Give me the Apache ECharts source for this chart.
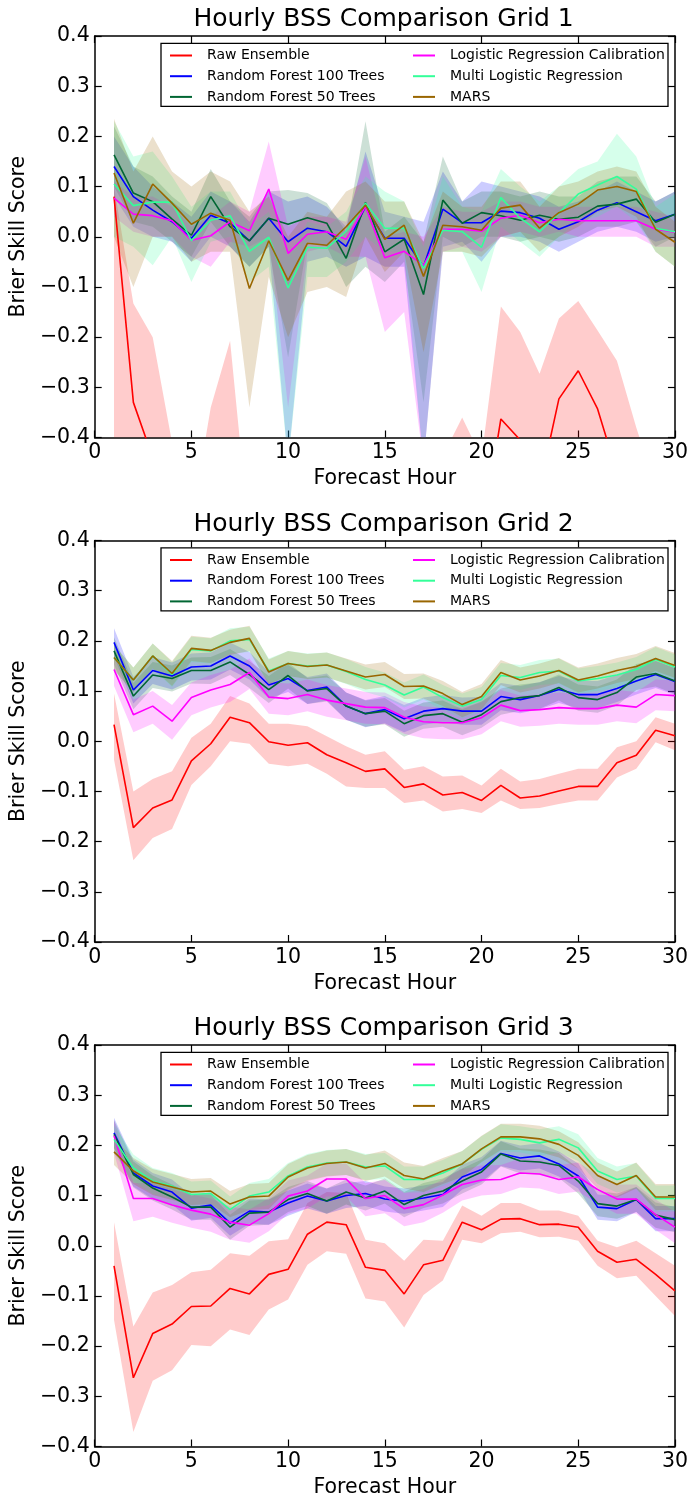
<!DOCTYPE html>
<html>
<head>
<meta charset="utf-8">
<script src="https://cdn.jsdelivr.net/npm/echarts@6/dist/echarts.min.js"></script>
<style>
  html, body { margin: 0; padding: 0; background: #ffffff; }
  #chart { width: 691px; height: 1500px; }
</style>
</head>
<body>
<div id="chart"></div>
<script>
// ---------------- data ----------------
const hours = [1,2,3,4,5,6,7,8,9,10,11,12,13,14,15,16,17,18,19,20,21,22,23,24,25,26,27,28,29,30];
const xTicks = [0, 5, 10, 15, 20, 25, 30];
const yTicks = [-0.4, -0.3, -0.2, -0.1, 0.0, 0.1, 0.2, 0.3, 0.4];
const titles = ['Hourly BSS Comparison Grid 1', 'Hourly BSS Comparison Grid 2', 'Hourly BSS Comparison Grid 3'];
const models = ['Raw Ensemble', 'Random Forest 100 Trees', 'Random Forest 50 Trees',
                'Logistic Regression Calibration', 'Multi Logistic Regression', 'MARS'];

// Grid 1 (mean, lower bound, upper bound per model)
const g1Raw    = [0.080,-0.330,-0.440,-0.580,-0.620,-0.520,-0.450,-0.620,-0.660,-0.700,-0.680,-0.720,-0.700,-0.620,-0.660,-0.700,-0.720,-0.600,-0.550,-0.600,-0.363,-0.405,-0.500,-0.323,-0.267,-0.343,-0.470,-0.580,-0.620,-0.660];
const g1RawLo  = [-0.450,-0.550,-0.680,-0.800,-0.800,-0.750,-0.700,-0.800,-0.800,-0.850,-0.850,-0.850,-0.850,-0.800,-0.800,-0.850,-0.850,-0.800,-0.750,-0.800,-0.600,-0.650,-0.750,-0.500,-0.450,-0.520,-0.700,-0.800,-0.800,-0.800];
const g1RawHi  = [0.100,-0.133,-0.200,-0.410,-0.570,-0.340,-0.207,-0.600,-0.550,-0.600,-0.580,-0.620,-0.600,-0.550,-0.560,-0.600,-0.620,-0.437,-0.360,-0.440,-0.139,-0.190,-0.273,-0.163,-0.128,-0.187,-0.247,-0.380,-0.500,-0.550];
const g1Rf100   = [0.140,0.080,0.053,0.030,-0.003,0.043,0.027,-0.008,0.037,-0.010,0.017,0.010,-0.019,0.060,-0.003,-0.003,-0.060,0.055,0.028,0.028,0.051,0.048,0.037,0.015,0.030,0.053,0.068,0.050,0.032,0.045];
const g1Rf100Lo = [0.080,0.020,0.000,-0.010,-0.050,0.000,-0.020,-0.060,-0.020,-0.450,-0.050,-0.040,-0.060,-0.040,-0.060,-0.060,-0.450,-0.020,-0.010,-0.050,0.000,0.000,-0.010,-0.030,-0.010,0.010,0.020,0.010,-0.010,0.000];
const g1Rf100Hi = [0.200,0.140,0.100,0.070,0.040,0.090,0.070,0.030,0.090,0.070,0.080,0.060,0.020,0.170,0.050,0.040,0.030,0.130,0.070,0.110,0.100,0.090,0.080,0.060,0.070,0.090,0.110,0.090,0.070,0.090];
const g1Rf50    = [0.163,0.087,0.070,0.035,0.003,0.080,0.020,-0.008,0.037,0.025,0.038,0.027,-0.043,0.068,-0.030,-0.005,-0.115,0.073,0.027,0.048,0.042,0.033,0.043,0.035,0.039,0.061,0.065,0.075,0.029,0.045];
const g1Rf50Lo  = [0.100,0.030,0.020,-0.010,-0.040,0.030,-0.020,-0.060,-0.020,-0.240,-0.010,-0.020,-0.100,-0.060,-0.090,-0.050,-0.330,0.000,-0.020,0.000,0.000,-0.010,0.000,-0.010,0.000,0.020,0.020,0.030,-0.020,0.000];
const g1Rf50Hi  = [0.220,0.140,0.120,0.080,0.050,0.135,0.070,0.040,0.090,0.093,0.087,0.067,0.010,0.230,0.010,0.040,-0.010,0.160,0.070,0.090,0.090,0.080,0.090,0.080,0.080,0.110,0.120,0.120,0.070,0.090];
const g1Lrc     = [0.077,0.045,0.042,0.032,-0.007,0.002,0.030,0.012,0.095,-0.033,0.005,0.010,-0.005,0.060,-0.042,-0.029,-0.057,0.015,0.015,0.011,0.037,0.043,0.028,0.035,0.032,0.032,0.032,0.032,0.015,0.009];
const g1LrcLo   = [0.040,0.010,0.000,0.000,-0.040,-0.060,-0.010,-0.020,0.000,-0.340,-0.030,-0.020,-0.040,-0.040,-0.190,-0.150,-0.450,-0.030,-0.020,-0.030,0.000,0.010,0.000,0.010,0.000,0.000,0.000,0.000,-0.020,-0.020];
const g1LrcHi   = [0.110,0.080,0.080,0.060,0.020,0.040,0.070,0.050,0.190,0.020,0.040,0.040,0.030,0.160,0.000,0.010,0.000,0.060,0.050,0.050,0.070,0.070,0.060,0.060,0.060,0.060,0.060,0.060,0.050,0.040];
const g1Mlr     = [0.105,0.062,0.069,0.069,-0.008,0.033,0.042,-0.029,-0.001,-0.102,-0.021,-0.023,0.011,0.067,0.017,0.017,-0.063,0.013,0.010,-0.021,0.078,0.037,0.010,0.047,0.085,0.103,0.120,0.095,0.017,0.010];
const g1MlrLo   = [0.000,-0.020,-0.057,0.000,-0.090,-0.010,0.000,-0.090,-0.060,-0.450,-0.080,-0.080,-0.050,0.000,-0.030,-0.030,-0.450,-0.030,-0.030,-0.110,0.020,-0.010,-0.040,0.000,0.030,0.040,0.060,0.030,-0.030,-0.060];
const g1MlrHi   = [0.230,0.160,0.170,0.120,0.060,0.090,0.090,0.020,0.050,-0.040,0.030,0.020,0.050,0.120,0.090,0.070,-0.020,0.120,0.060,0.050,0.135,0.100,0.070,0.100,0.135,0.150,0.205,0.160,0.060,0.085];
const g1Mars    = [0.127,0.027,0.105,0.067,0.025,0.047,0.033,-0.103,-0.008,-0.087,-0.013,-0.017,0.020,0.063,-0.005,0.023,-0.079,0.023,0.020,0.013,0.057,0.063,0.017,0.048,0.065,0.093,0.100,0.090,0.015,-0.011];
const g1MarsLo  = [0.000,-0.100,0.000,0.000,-0.050,-0.030,-0.030,-0.340,-0.080,-0.200,-0.110,-0.100,-0.120,0.000,-0.070,-0.030,-0.230,-0.030,-0.030,-0.040,0.000,0.010,-0.030,0.000,0.020,0.050,0.060,0.040,-0.030,-0.060];
const g1MarsHi  = [0.235,0.130,0.200,0.130,0.100,0.130,0.110,0.050,0.080,0.000,0.050,0.040,0.090,0.110,0.070,0.070,-0.010,0.090,0.060,0.060,0.110,0.110,0.060,0.100,0.110,0.130,0.140,0.130,0.060,0.030];

// Grid 2
const g2Raw    = [0.033,-0.172,-0.133,-0.117,-0.039,-0.005,0.048,0.037,-0.001,-0.008,-0.003,-0.027,-0.043,-0.060,-0.055,-0.092,-0.085,-0.107,-0.102,-0.118,-0.088,-0.113,-0.109,-0.099,-0.090,-0.090,-0.043,-0.028,0.022,0.011];
const g2RawLo  = [-0.037,-0.237,-0.193,-0.175,-0.087,-0.050,0.000,-0.005,-0.045,-0.050,-0.045,-0.065,-0.090,-0.093,-0.093,-0.123,-0.118,-0.140,-0.135,-0.143,-0.118,-0.135,-0.133,-0.125,-0.118,-0.118,-0.072,-0.055,-0.002,-0.018];
const g2RawHi  = [0.095,-0.100,-0.075,-0.060,0.007,0.035,0.090,0.075,0.035,0.035,0.030,0.010,-0.010,-0.027,-0.020,-0.057,-0.050,-0.070,-0.068,-0.088,-0.055,-0.080,-0.075,-0.065,-0.055,-0.055,-0.012,0.000,0.048,0.035];
const g2Rf100   = [0.197,0.102,0.141,0.130,0.148,0.150,0.170,0.150,0.112,0.125,0.101,0.108,0.070,0.055,0.063,0.045,0.060,0.065,0.060,0.060,0.089,0.083,0.091,0.103,0.093,0.093,0.105,0.120,0.133,0.119];
const g2Rf100Lo = [0.168,0.075,0.114,0.103,0.121,0.123,0.143,0.123,0.085,0.098,0.074,0.081,0.043,0.028,0.036,0.018,0.033,0.038,0.033,0.033,0.062,0.056,0.064,0.076,0.066,0.066,0.078,0.093,0.106,0.092];
const g2Rf100Hi = [0.225,0.128,0.168,0.157,0.175,0.177,0.197,0.178,0.138,0.152,0.128,0.135,0.097,0.082,0.090,0.072,0.087,0.092,0.087,0.088,0.116,0.110,0.118,0.130,0.120,0.120,0.132,0.147,0.160,0.146];
const g2Rf50    = [0.180,0.090,0.132,0.125,0.141,0.141,0.158,0.133,0.103,0.131,0.100,0.105,0.070,0.055,0.060,0.035,0.051,0.055,0.038,0.053,0.079,0.087,0.091,0.107,0.087,0.083,0.097,0.128,0.135,0.120];
const g2Rf50Lo  = [0.153,0.064,0.106,0.099,0.115,0.114,0.132,0.106,0.076,0.105,0.074,0.079,0.043,0.029,0.034,0.009,0.025,0.029,0.012,0.027,0.053,0.061,0.065,0.081,0.061,0.057,0.071,0.102,0.109,0.094];
const g2Rf50Hi  = [0.207,0.116,0.158,0.151,0.167,0.168,0.184,0.160,0.130,0.157,0.126,0.131,0.097,0.081,0.086,0.061,0.077,0.081,0.064,0.079,0.105,0.113,0.117,0.133,0.113,0.109,0.123,0.154,0.161,0.146];
const g2Lrc     = [0.143,0.053,0.070,0.040,0.087,0.102,0.113,0.137,0.088,0.085,0.093,0.082,0.075,0.068,0.067,0.048,0.039,0.037,0.037,0.047,0.072,0.061,0.063,0.067,0.065,0.065,0.072,0.068,0.093,0.091];
const g2LrcLo   = [0.110,0.018,0.035,0.003,0.052,0.067,0.078,0.104,0.055,0.052,0.060,0.049,0.042,0.035,0.034,0.015,0.006,0.004,0.004,0.014,0.040,0.029,0.031,0.035,0.033,0.033,0.040,0.036,0.062,0.060];
const g2LrcHi   = [0.173,0.083,0.100,0.072,0.117,0.132,0.143,0.165,0.118,0.115,0.123,0.112,0.105,0.098,0.097,0.078,0.069,0.067,0.067,0.077,0.102,0.091,0.093,0.097,0.095,0.095,0.102,0.098,0.123,0.121];
const g2Mlr     = [0.167,0.122,0.170,0.133,0.183,0.180,0.200,0.203,0.140,0.155,0.150,0.152,0.139,0.123,0.112,0.092,0.108,0.087,0.070,0.083,0.131,0.127,0.137,0.140,0.120,0.125,0.132,0.143,0.163,0.148];
const g2MlrLo   = [0.142,0.097,0.145,0.108,0.158,0.155,0.175,0.178,0.115,0.130,0.125,0.127,0.114,0.098,0.087,0.067,0.083,0.062,0.045,0.058,0.106,0.102,0.112,0.115,0.095,0.100,0.107,0.118,0.138,0.123];
const g2MlrHi   = [0.192,0.147,0.195,0.158,0.208,0.205,0.225,0.228,0.165,0.180,0.175,0.177,0.164,0.148,0.137,0.117,0.133,0.112,0.095,0.108,0.156,0.152,0.162,0.165,0.145,0.150,0.157,0.168,0.188,0.173];
const g2Mars    = [0.167,0.122,0.170,0.135,0.185,0.181,0.197,0.205,0.138,0.155,0.149,0.152,0.140,0.128,0.133,0.109,0.110,0.095,0.073,0.089,0.137,0.122,0.130,0.141,0.122,0.130,0.141,0.149,0.165,0.151];
const g2MarsLo  = [0.142,0.097,0.145,0.110,0.160,0.156,0.172,0.180,0.113,0.130,0.124,0.127,0.115,0.103,0.108,0.084,0.085,0.070,0.048,0.064,0.112,0.097,0.105,0.116,0.097,0.105,0.116,0.124,0.140,0.126];
const g2MarsHi  = [0.192,0.147,0.195,0.160,0.210,0.206,0.222,0.230,0.163,0.180,0.174,0.177,0.165,0.153,0.158,0.134,0.135,0.120,0.098,0.114,0.162,0.147,0.155,0.166,0.147,0.155,0.166,0.174,0.190,0.176];

// Grid 3
const g3Raw    = [-0.040,-0.263,-0.175,-0.156,-0.121,-0.120,-0.085,-0.096,-0.057,-0.047,0.023,0.047,0.042,-0.043,-0.049,-0.096,-0.038,-0.029,0.047,0.032,0.053,0.054,0.042,0.043,0.037,-0.011,-0.033,-0.027,-0.057,-0.090];
const g3RawLo  = [-0.148,-0.371,-0.269,-0.248,-0.198,-0.200,-0.167,-0.178,-0.127,-0.107,-0.038,-0.011,-0.016,-0.105,-0.111,-0.163,-0.098,-0.069,0.012,0.005,0.025,0.028,0.017,0.018,0.010,-0.040,-0.065,-0.060,-0.100,-0.140];
const g3RawHi  = [0.047,-0.161,-0.093,-0.078,-0.053,-0.048,-0.015,-0.020,0.009,0.013,0.085,0.107,0.105,0.012,0.005,-0.030,0.012,0.010,0.080,0.060,0.085,0.085,0.070,0.070,0.060,0.010,-0.003,0.010,-0.015,-0.040];
const g3Rf100   = [0.225,0.145,0.119,0.107,0.075,0.081,0.045,0.069,0.067,0.085,0.099,0.089,0.100,0.104,0.093,0.089,0.095,0.102,0.137,0.152,0.184,0.175,0.179,0.163,0.139,0.077,0.074,0.092,0.054,0.054];
const g3Rf100Lo = [0.195,0.118,0.093,0.082,0.050,0.056,0.020,0.044,0.042,0.060,0.074,0.064,0.075,0.079,0.068,0.064,0.070,0.077,0.112,0.127,0.159,0.150,0.154,0.138,0.114,0.052,0.049,0.067,0.029,0.029];
const g3Rf100Hi = [0.255,0.172,0.145,0.132,0.100,0.106,0.070,0.094,0.092,0.110,0.124,0.114,0.125,0.129,0.118,0.114,0.120,0.127,0.162,0.177,0.209,0.200,0.204,0.188,0.164,0.102,0.099,0.117,0.079,0.079];
const g3Rf50    = [0.222,0.142,0.115,0.097,0.077,0.077,0.037,0.065,0.067,0.092,0.104,0.089,0.107,0.095,0.109,0.082,0.100,0.109,0.129,0.147,0.183,0.169,0.167,0.160,0.129,0.084,0.079,0.092,0.061,0.052];
const g3Rf50Lo  = [0.194,0.116,0.090,0.072,0.052,0.052,0.012,0.040,0.042,0.067,0.079,0.064,0.082,0.070,0.084,0.057,0.075,0.084,0.104,0.122,0.158,0.144,0.142,0.135,0.104,0.059,0.054,0.067,0.036,0.027];
const g3Rf50Hi  = [0.250,0.168,0.140,0.122,0.102,0.102,0.062,0.090,0.092,0.117,0.129,0.114,0.132,0.120,0.134,0.107,0.125,0.134,0.154,0.172,0.208,0.194,0.192,0.185,0.154,0.109,0.104,0.117,0.086,0.077];
const g3Lrc     = [0.219,0.094,0.094,0.081,0.071,0.063,0.047,0.041,0.064,0.099,0.109,0.133,0.133,0.094,0.100,0.074,0.082,0.101,0.122,0.131,0.132,0.145,0.143,0.132,0.137,0.112,0.093,0.093,0.062,0.037];
const g3LrcLo   = [0.185,0.049,0.058,0.046,0.036,0.028,0.012,0.006,0.029,0.064,0.074,0.098,0.098,0.059,0.065,0.039,0.047,0.066,0.090,0.100,0.103,0.116,0.114,0.103,0.108,0.083,0.064,0.064,0.032,0.005];
const g3LrcHi   = [0.250,0.125,0.125,0.112,0.102,0.094,0.078,0.072,0.095,0.130,0.140,0.164,0.164,0.125,0.131,0.105,0.113,0.132,0.153,0.160,0.161,0.174,0.172,0.161,0.166,0.141,0.122,0.122,0.092,0.068];
const g3Mlr     = [0.212,0.155,0.129,0.119,0.102,0.104,0.072,0.099,0.107,0.139,0.157,0.165,0.167,0.157,0.159,0.132,0.132,0.145,0.163,0.192,0.215,0.212,0.205,0.212,0.195,0.149,0.132,0.139,0.094,0.094];
const g3MlrLo   = [0.184,0.128,0.103,0.093,0.076,0.078,0.046,0.073,0.081,0.113,0.131,0.139,0.141,0.131,0.133,0.106,0.106,0.119,0.137,0.166,0.189,0.186,0.179,0.186,0.169,0.123,0.106,0.113,0.068,0.068];
const g3MlrHi   = [0.240,0.182,0.155,0.145,0.128,0.130,0.098,0.125,0.133,0.165,0.183,0.191,0.193,0.183,0.185,0.158,0.158,0.171,0.189,0.218,0.242,0.238,0.232,0.238,0.222,0.175,0.158,0.165,0.120,0.120];
const g3Mars    = [0.187,0.149,0.127,0.117,0.107,0.109,0.083,0.097,0.099,0.137,0.155,0.164,0.167,0.155,0.164,0.140,0.133,0.149,0.163,0.193,0.217,0.217,0.213,0.202,0.180,0.140,0.122,0.140,0.097,0.097];
const g3MarsLo  = [0.161,0.123,0.101,0.091,0.081,0.083,0.057,0.071,0.073,0.111,0.129,0.138,0.141,0.129,0.138,0.114,0.107,0.123,0.137,0.167,0.191,0.191,0.187,0.176,0.154,0.114,0.096,0.114,0.071,0.071];
const g3MarsHi  = [0.213,0.175,0.153,0.143,0.133,0.135,0.109,0.123,0.125,0.163,0.181,0.190,0.193,0.181,0.190,0.166,0.159,0.175,0.189,0.219,0.243,0.243,0.239,0.228,0.206,0.166,0.148,0.166,0.123,0.123];

// ---------------- styling / layout ----------------
const FONT = 'DejaVu Sans';
const COLORS = ['#ff0000', '#0000ff', '#006633', '#ff00ff', '#33ff99', '#996600'];
const BAND_ALPHA = 0.2;
const GRID_LEFT = 92, GRID_WIDTH = 583, GRID_HEIGHT = 401.5;
const GRID_TOPS = [36, 540.5, 1045];
const LABEL_SIZE = 20.5;

const grids = [
  [[g1Raw, g1RawLo, g1RawHi], [g1Rf100, g1Rf100Lo, g1Rf100Hi], [g1Rf50, g1Rf50Lo, g1Rf50Hi],
   [g1Lrc, g1LrcLo, g1LrcHi], [g1Mlr, g1MlrLo, g1MlrHi], [g1Mars, g1MarsLo, g1MarsHi]],
  [[g2Raw, g2RawLo, g2RawHi], [g2Rf100, g2Rf100Lo, g2Rf100Hi], [g2Rf50, g2Rf50Lo, g2Rf50Hi],
   [g2Lrc, g2LrcLo, g2LrcHi], [g2Mlr, g2MlrLo, g2MlrHi], [g2Mars, g2MarsLo, g2MarsHi]],
  [[g3Raw, g3RawLo, g3RawHi], [g3Rf100, g3Rf100Lo, g3Rf100Hi], [g3Rf50, g3Rf50Lo, g3Rf50Hi],
   [g3Lrc, g3LrcLo, g3LrcHi], [g3Mlr, g3MlrLo, g3MlrHi], [g3Mars, g3MarsLo, g3MarsHi]]
];

function rgba(hex, a) {
  const n = parseInt(hex.slice(1), 16);
  return 'rgba(' + ((n >> 16) & 255) + ',' + ((n >> 8) & 255) + ',' + (n & 255) + ',' + a + ')';
}
const points = vals => hours.map((h, k) => [h, vals[k]]);
const fmtY = v => {
  if (Math.abs(v) < 1e-9) return '0.0';
  return (v < 0 ? '\u2212' : '') + Math.abs(v).toFixed(1);
};

// Shaded range between lower and upper bound, drawn as one polygon in data coordinates
function bandSeries(lo, hi, color, xi, yi) {
  return {
    type: 'custom', xAxisIndex: xi, yAxisIndex: yi, silent: true, clip: true, z: 1,
    data: hours.map((h, k) => [h, lo[k], hi[k]]),
    encode: { x: 0, y: [1, 2] },
    renderItem: (params, api) => {
      if (params.dataIndex !== 0) return null;
      const upper = hours.map((h, k) => api.coord([h, hi[k]]));
      const lower = hours.map((h, k) => api.coord([h, lo[k]])).reverse();
      const cs = params.coordSys;
      return {
        type: 'polygon',
        shape: { points: upper.concat(lower) },
        style: { fill: rgba(color, BAND_ALPHA), stroke: null },
        clipPath: { type: 'rect', shape: { x: cs.x, y: cs.y, width: cs.width, height: cs.height } }
      };
    }
  };
}

const axisLineStyle = { color: '#000', width: 1.5 };
const tickStyle = { inside: true, length: 7, lineStyle: { color: '#000', width: 1.2 } };

const option = {
  animation: false,
  backgroundColor: '#ffffff',
  title: [], grid: [], xAxis: [], yAxis: [], legend: [], series: [],
  graphic: []
};

grids.forEach((g, i) => {
  const top = GRID_TOPS[i];
  option.title.push({
    text: titles[i], left: GRID_LEFT + GRID_WIDTH / 2, top: top - 29, textAlign: 'center', padding: 0,
    textStyle: { fontFamily: FONT, fontSize: 25, fontWeight: 'normal', color: '#000' }
  });
  option.grid.push({ left: GRID_LEFT, top: top, width: GRID_WIDTH, height: GRID_HEIGHT });

  const xBase = { gridIndex: i, type: 'value', min: xTicks[0], max: xTicks[xTicks.length - 1],
                  interval: xTicks[1] - xTicks[0], splitLine: { show: false },
                  axisLine: { onZero: false, lineStyle: axisLineStyle }, axisTick: tickStyle };
  option.xAxis.push(Object.assign({}, xBase, {
    position: 'bottom', name: 'Forecast Hour', nameLocation: 'middle', nameGap: 31,
    nameTextStyle: { fontFamily: FONT, fontSize: LABEL_SIZE, color: '#000' },
    axisLabel: { fontFamily: FONT, fontSize: LABEL_SIZE, color: '#000', margin: 5 }
  }));
  option.xAxis.push(Object.assign({}, xBase, { position: 'top', axisLabel: { show: false } }));

  const yBase = { gridIndex: i, type: 'value', min: yTicks[0], max: yTicks[yTicks.length - 1],
                  interval: 0.1, splitLine: { show: false },
                  axisLine: { onZero: false, lineStyle: axisLineStyle }, axisTick: tickStyle };
  option.yAxis.push(Object.assign({}, yBase, {
    position: 'left', name: 'Brier Skill Score', nameLocation: 'middle', nameGap: 51, nameRotate: 90,
    nameTextStyle: { fontFamily: FONT, fontSize: LABEL_SIZE, color: '#000' },
    axisLabel: { fontFamily: FONT, fontSize: LABEL_SIZE, color: '#000', margin: 5, formatter: fmtY }
  }));
  option.yAxis.push(Object.assign({}, yBase, { position: 'right', axisLabel: { show: false } }));

  const xi = 2 * i, yi = 2 * i;

  // confidence bands (beneath every line)
  g.forEach((trip, m) => {
    option.series.push(bandSeries(trip[1], trip[2], COLORS[m], xi, yi));
  });
  // mean lines
  g.forEach((trip, m) => {
    option.series.push({
      type: 'line', name: models[m], xAxisIndex: xi, yAxisIndex: yi, data: points(trip[0]),
      symbol: 'none', lineStyle: { color: COLORS[m], width: 1.6 }, itemStyle: { color: COLORS[m] }, z: 2
    });
  });

  // legend frame and two legend columns
  option.graphic.push({
    type: 'rect', z: 4, silent: true,
    shape: { x: 161, y: top + 7.3, width: 507, height: 63 },
    style: { fill: '#ffffff', stroke: '#000000', lineWidth: 1.3 }
  });
  const legendBase = {
    orient: 'vertical', top: top + 12.5, padding: 0, itemGap: 6.7, itemWidth: 22, itemHeight: 2,
    icon: 'rect', selectedMode: false, z: 5,
    textStyle: { fontFamily: FONT, fontSize: 14, color: '#000', lineHeight: 14, padding: [0, 0, 0, 10] }
  };
  option.legend.push(Object.assign({}, legendBase, { left: 170, data: models.slice(0, 3) }));
  option.legend.push(Object.assign({}, legendBase, { left: 413, data: models.slice(3) }));
});

const chart = echarts.init(document.getElementById('chart'), null, { renderer: 'canvas' });
chart.setOption(option);
</script>
</body>
</html>
